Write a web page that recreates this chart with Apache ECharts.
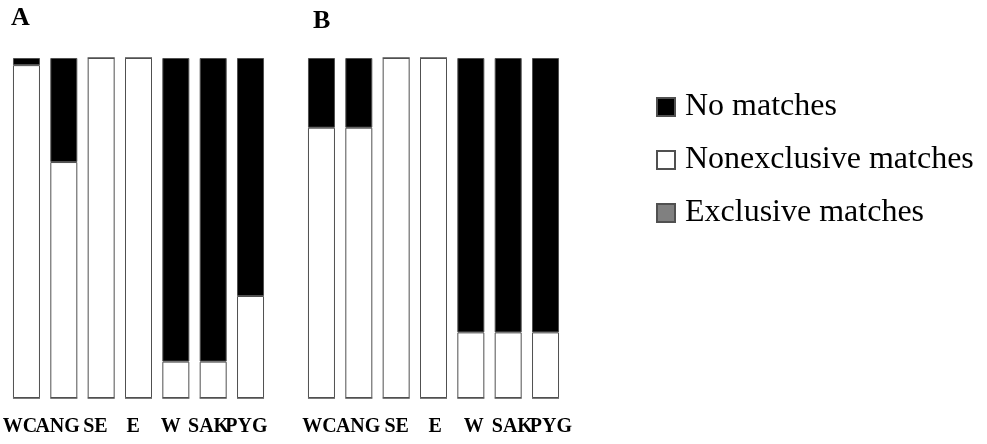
<!DOCTYPE html>
<html>
<head>
<meta charset="utf-8">
<script src="https://cdn.jsdelivr.net/npm/echarts@6/dist/echarts.min.js"></script>
<style>
html,body{margin:0;padding:0;background:#fff;}
#chart{width:987px;height:444px;}
</style>
</head>
<body>
<div id="chart"></div>
<script>
var categories = ['WC', 'ANG', 'SE', 'E', 'W', 'SAK', 'PYG'];
var panelTitles = ['A', 'B'];
var seriesNames = ['No matches', 'Nonexclusive matches', 'Exclusive matches'];

// Panel A (percent of each bar)
var exclusiveA    = [0, 0, 0, 0, 0, 0, 0];
var nonexclusiveA = [97.9, 69.4, 100, 100, 10.7, 10.7, 30];
var noMatchesA    = [2.1, 30.6, 0, 0, 89.3, 89.3, 70];

// Panel B (percent of each bar)
var exclusiveB    = [0, 0, 0, 0, 0, 0, 0];
var nonexclusiveB = [79.5, 79.5, 100, 100, 19.3, 19.3, 19.3];
var noMatchesB    = [20.5, 20.5, 0, 0, 80.7, 80.7, 80.7];

var FONT = "'Liberation Serif', 'Times New Roman', serif";
var BORDER = '#505050';
var colors = {
  'No matches': '#000000',
  'Nonexclusive matches': '#ffffff',
  'Exclusive matches': '#808080'
};

var chart = echarts.init(document.getElementById('chart'), null, {renderer: 'canvas'});

function barSeries(name, data, idx, stack) {
  return {
    name: name,
    type: 'bar',
    stack: stack,
    xAxisIndex: idx,
    yAxisIndex: idx,
    data: data,
    barWidth: 27,
    itemStyle: {color: colors[name], borderColor: BORDER, borderWidth: 1},
    emphasis: {disabled: true}
  };
}

var hiddenX = function (gi) {
  return {
    type: 'category', gridIndex: gi, data: categories,
    axisLine: {show: false}, axisTick: {show: false}, axisLabel: {show: false}
  };
};
var labelX = function (gi) {
  return {
    type: 'category', gridIndex: gi, data: categories,
    axisLine: {show: false}, axisTick: {show: false},
    axisLabel: {interval: 0, margin: 19, color: '#000', fontFamily: FONT, fontWeight: 'bold', fontSize: 20}
  };
};
var hiddenY = function (gi) {
  return {type: 'value', gridIndex: gi, min: 0, max: 100, show: false};
};

var option = {
  animation: false,
  backgroundColor: '#ffffff',
  title: [
    {text: panelTitles[0], left: 11, top: 5, padding: 0,
     textStyle: {fontFamily: FONT, fontWeight: 'bold', fontSize: 26, color: '#000'}},
    {text: panelTitles[1], left: 313, top: 8, padding: 0,
     textStyle: {fontFamily: FONT, fontWeight: 'bold', fontSize: 26, color: '#000'}}
  ],
  legend: {
    orient: 'vertical',
    left: 656,
    top: 91,
    padding: 0,
    itemGap: 21,
    itemWidth: 18,
    itemHeight: 18,
    icon: 'rect',
    selectedMode: false,
    data: seriesNames,
    textStyle: {fontFamily: FONT, fontSize: 32, color: '#000', padding: [0, 0, 0, 5]}
  },
  grid: [
    {left: 7.8, width: 261.4, top: 58, height: 340},
    {left: 302.8, width: 261.4, top: 58, height: 340},
    {left: -3.3, width: 268.5, top: 58, height: 340},
    {left: 300.3, width: 269.9, top: 58, height: 340}
  ],
  xAxis: [hiddenX(0), hiddenX(1), labelX(2), labelX(3)],
  yAxis: [hiddenY(0), hiddenY(1), hiddenY(2), hiddenY(3)],
  series: [
    barSeries('Exclusive matches', exclusiveA, 0, 'A'),
    barSeries('Nonexclusive matches', nonexclusiveA, 0, 'A'),
    barSeries('No matches', noMatchesA, 0, 'A'),
    barSeries('Exclusive matches', exclusiveB, 1, 'B'),
    barSeries('Nonexclusive matches', nonexclusiveB, 1, 'B'),
    barSeries('No matches', noMatchesB, 1, 'B')
  ]
};
chart.setOption(option);
</script>
</body>
</html>
